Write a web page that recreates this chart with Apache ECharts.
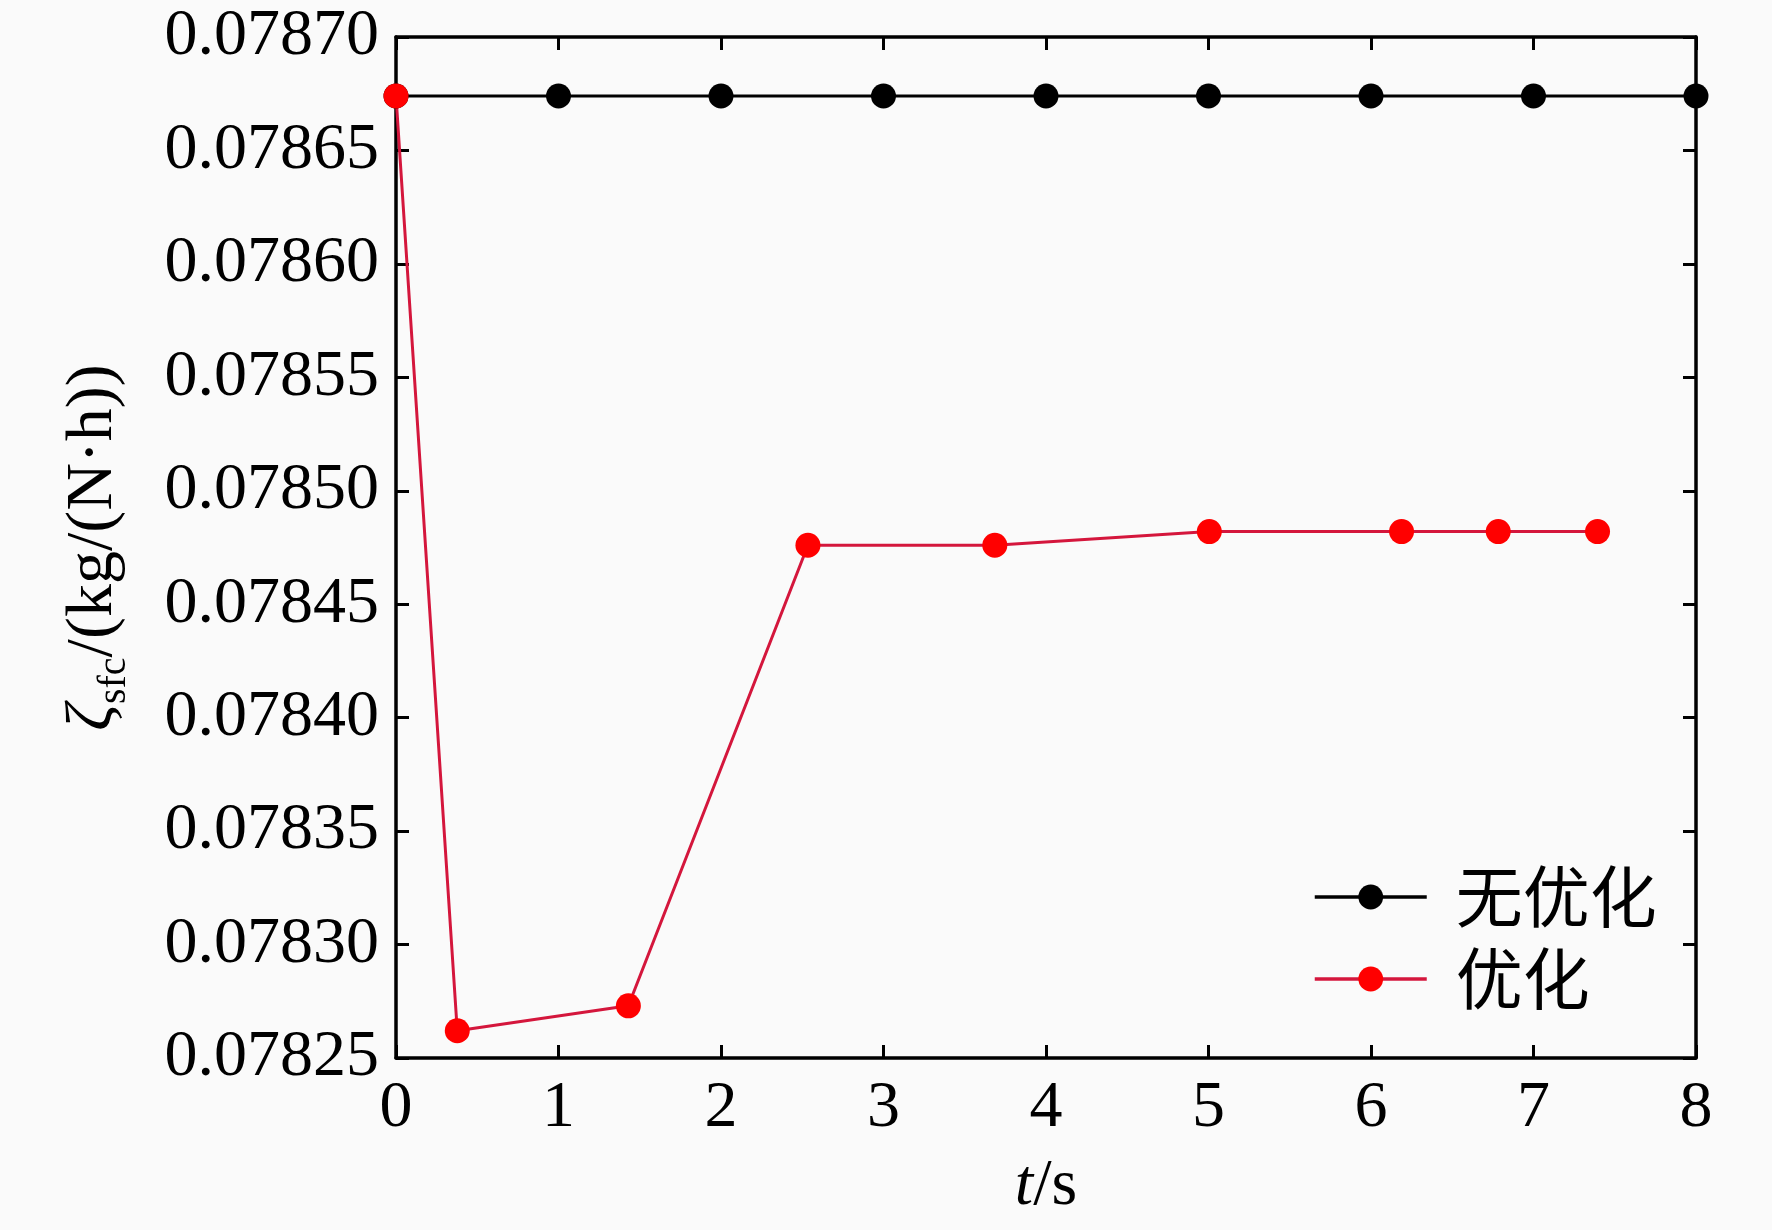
<!DOCTYPE html>
<html>
<head>
<meta charset="utf-8">
<script src="https://cdn.jsdelivr.net/npm/echarts@6/dist/echarts.min.js"></script>
<style>
html,body{margin:0;padding:0;background:#fafafa;}
#c{width:1772px;height:1230px;}
</style>
</head>
<body>
<div id="c"></div>
<script>
// Data
const xTicks = [0, 1, 2, 3, 4, 5, 6, 7, 8];
const yTicks = [0.07825, 0.07830, 0.07835, 0.07840, 0.07845, 0.07850, 0.07855, 0.07860, 0.07865, 0.07870];
const seriesNames = ['无优化', '优化'];
const noOptT = [0, 1, 2, 3, 4, 5, 6, 7, 8];
const noOptV = [0.078674, 0.078674, 0.078674, 0.078674, 0.078674, 0.078674, 0.078674, 0.078674, 0.078674];
const optT = [0, 0.377, 1.43, 2.535, 3.685, 5.005, 6.188, 6.783, 7.394];
const optV = [0.078674, 0.078262, 0.078273, 0.078476, 0.078476, 0.078482, 0.078482, 0.078482, 0.078482];

const chart = echarts.init(document.getElementById('c'));
const serif = '"Liberation Serif","Times New Roman",serif';
const axisLine = {show: true, onZero: false, lineStyle: {color: '#000', width: 3.5}};
const axisTick = {show: true, inside: true, length: 13, lineStyle: {color: '#000', width: 3}};
const lbl = {fontFamily: serif, fontSize: 66, color: '#000'};

const option = {
  backgroundColor: '#fafafa',
  animation: false,
  grid: {left: 396, right: 76, top: 37, bottom: 172, containLabel: false},
  legend: {
    orient: 'vertical',
    left: 1308,
    top: 858,
    itemWidth: 112,
    itemHeight: 31,
    itemGap: 14,
    data: seriesNames,
    lineStyle: {width: 3.5},
    textStyle: {fontFamily: '"Noto Sans CJK SC"', fontSize: 67, color: '#000', lineHeight: 68, padding: [0, 0, 0, 24]}
  },
  xAxis: [{
    type: 'value', min: xTicks[0], max: xTicks[xTicks.length - 1], interval: 1,
    axisLine: axisLine, axisTick: axisTick, splitLine: {show: false},
    axisLabel: Object.assign({margin: 18}, lbl),
    name: '{i|t}{n|/s}', nameLocation: 'middle', nameGap: 96,
    nameTextStyle: {rich: {i: {fontFamily: serif, fontSize: 66, fontStyle: 'italic', color: '#000'}, n: {fontFamily: serif, fontSize: 66, color: '#000'}}}
  }, {
    type: 'value', position: 'top', min: xTicks[0], max: xTicks[xTicks.length - 1], interval: 1,
    axisLine: axisLine, axisTick: axisTick, splitLine: {show: false}, axisLabel: {show: false}
  }],
  yAxis: [{
    type: 'value', min: yTicks[0], max: yTicks[yTicks.length - 1], interval: 0.00005,
    axisLine: axisLine, axisTick: axisTick, splitLine: {show: false},
    axisLabel: Object.assign({margin: 17, formatter: v => v.toFixed(5)}, lbl),
    name: '{i|ζ}{s|sfc}{n|/(kg/(N·h))}', nameLocation: 'middle', nameRotate: 90, nameGap: 262,
    nameTextStyle: {rich: {
      i: {fontFamily: serif, fontSize: 66, fontStyle: 'italic', color: '#000', lineHeight: 80, verticalAlign: 'middle'},
      s: {fontFamily: serif, fontSize: 40, color: '#000', lineHeight: 40, verticalAlign: 'bottom'},
      n: {fontFamily: serif, fontSize: 66, color: '#000', lineHeight: 80, verticalAlign: 'middle'}
    }}
  }, {
    type: 'value', position: 'right', min: yTicks[0], max: yTicks[yTicks.length - 1], interval: 0.00005,
    axisLine: axisLine, axisTick: axisTick, splitLine: {show: false}, axisLabel: {show: false}
  }],
  series: [{
    name: seriesNames[0], type: 'line', xAxisIndex: 0, yAxisIndex: 0,
    data: noOptT.map((t, i) => [t, noOptV[i]]),
    symbol: 'circle', symbolSize: 25, clip: false,
    lineStyle: {color: '#000', width: 3},
    itemStyle: {color: '#000'}
  }, {
    name: seriesNames[1], type: 'line', xAxisIndex: 0, yAxisIndex: 0,
    data: optT.map((t, i) => [t, optV[i]]),
    symbol: 'circle', symbolSize: 25, clip: false,
    lineStyle: {color: '#d4163c', width: 3},
    itemStyle: {color: '#ff0000'}
  }]
};
chart.setOption(option);
</script>
</body>
</html>
